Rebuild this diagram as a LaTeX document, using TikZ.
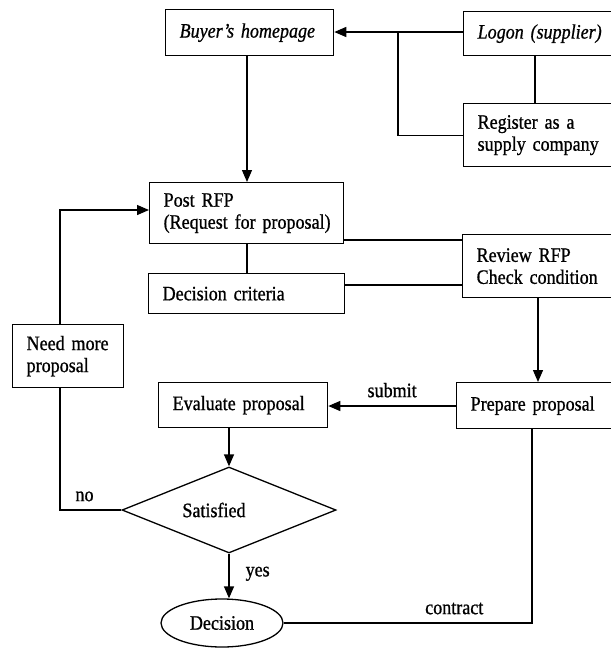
\documentclass[tikz,border=0pt]{standalone}
\usepackage{fontspec}
\setmainfont[FakeStretch=0.88,FakeBold=0.8,WordSpace=0.8]{Liberation Serif}
\usetikzlibrary{arrows.meta,shapes.geometric}
\begin{document}
\begin{tikzpicture}[x=1pt,y=-1pt,
  font=\fontsize{20.5}{22}\selectfont,
  box/.style={draw, line width=1.3pt, rectangle, anchor=north west, inner xsep=14pt, inner ysep=0pt, align=left},
  conn/.style={line width=1.3pt},
  arr/.style={conn, -{Triangle[length=12pt,width=10pt]}},
  lbl/.style={inner sep=2pt}
]
\useasboundingbox (0,0) rectangle (611,649);
\fill[white] (0,0) rectangle (611,649);
\clip (0,0) rectangle (611,649);
% boxes
\node[box, text width=140pt, minimum height=46pt] (buyer) at (165,9) {\mbox{\itshape Buyer’s homepage}};
\node[box, text width=132pt, minimum height=44pt] (logon) at (463,11) {\mbox{\itshape Logon (supplier)}};
\node[box, text width=132pt, minimum height=63pt] (reg) at (463,103) {\mbox{Register as a}\\\mbox{supply company}};
\node[box, text width=166pt, minimum height=61pt] (post) at (149,182) {\mbox{Post RFP}\\\mbox{(Request for proposal)}};
\node[box, text width=168pt, minimum height=40pt] (crit) at (148,273) {\mbox{Decision criteria}};
\node[box, text width=132pt, minimum height=63pt] (review) at (462,234) {\mbox{Review RFP}\\\mbox{Check condition}};
\node[box, text width=83pt, minimum height=63pt] (need) at (12,324) {\mbox{Need more}\\\mbox{proposal}};
\node[box, text width=141pt, minimum height=45pt] (eval) at (158,382) {\mbox{Evaluate proposal}};
\node[box, text width=137pt, minimum height=46pt] (prep) at (456,382) {\mbox{Prepare proposal}};
\node[diamond, draw, line width=1.3pt, minimum width=214pt, minimum height=86pt, inner sep=0pt, aspect=2.5] (dia) at (229,510) {Satisfied\hspace*{30pt}};
\node[ellipse, draw, line width=1.3pt, minimum width=122pt, minimum height=48pt, inner sep=0pt] (dec) at (222,623) {Decision};
% helper coordinates
\coordinate (j) at (398,32);
\coordinate (xl) at (535,0);
\coordinate (xb) at (247,0);
\coordinate (y1) at (0,240);
\coordinate (y2) at (0,285);
\coordinate (xr) at (538,0);
\coordinate (y3) at (0,406);
\coordinate (xn) at (60,0);
\coordinate (ya) at (0,210);
\coordinate (xc) at (532,0);
% connectors
\draw[arr] (logon.west |- j) -- (buyer.east |- j);
\draw[conn] (reg.west) -| (j);
\draw[conn] (logon.south -| xl) -- (reg.north -| xl);
\draw[arr] (buyer.south -| xb) -- (post.north -| xb);
\draw[conn] (post.south -| xb) -- (crit.north -| xb);
\draw[conn] (post.east |- y1) -- (review.west |- y1);
\draw[conn] (crit.east |- y2) -- (review.west |- y2);
\draw[arr] (review.south -| xr) -- (prep.north -| xr);
\draw[arr] (prep.west |- y3) -- node[lbl, above=6pt] (lsub) {submit} (eval.east |- y3);
\draw[arr] (dia.north |- eval.south) -- (dia.north);
\draw[conn] (dia.west) -- node[lbl, pos=0.6, above=6pt] (lno) {no} (dia.west -| xn) -- (need.south -| xn);
\draw[arr] (need.north -| xn) -- (xn |- ya) -- (post.west |- ya);
\draw[arr] (dia.south) -- node[lbl, pos=0.45, right=14pt] (lyes) {yes} (dia.south |- dec.north);
\draw[conn] (dec.east) -- node[lbl, pos=0.687, above=6pt] (lcon) {contract} (dec.east -| xc) -- (prep.south -| xc);
\end{tikzpicture}
\end{document}
